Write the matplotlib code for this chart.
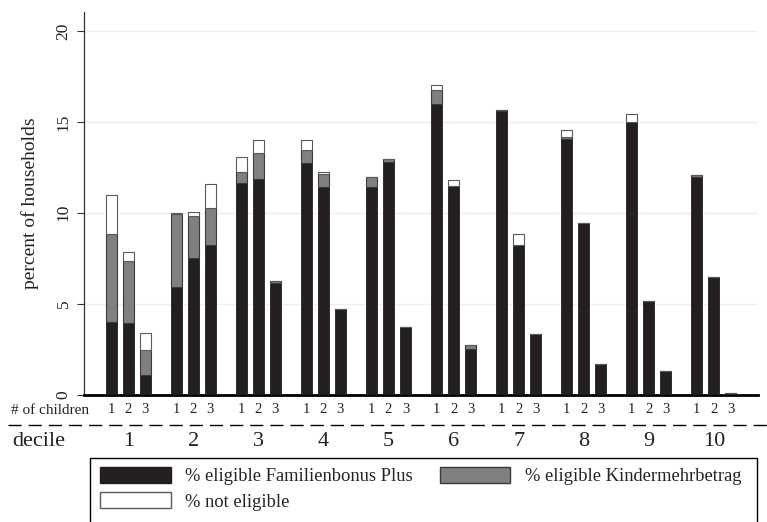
import numpy as np
import matplotlib
matplotlib.use("Agg")
import matplotlib.pyplot as plt
from matplotlib.patches import Patch, Rectangle
from matplotlib.lines import Line2D

plt.rcParams["font.family"] = ["Liberation Serif", "DejaVu Serif"]

# deciles and number of children per household
deciles = ["1", "2", "3", "4", "5", "6", "7", "8", "9", "10"]
children = ["1", "2", "3"]

# stacked shares (percent of households), one row per decile, cols = 1/2/3 children
familienbonus = [
    [4.00, 3.92, 1.08],
    [5.92, 7.50, 8.22],
    [11.64, 11.88, 6.12],
    [12.74, 11.42, 4.70],
    [11.42, 12.80, 3.71],
    [16.00, 11.45, 2.48],
    [15.60, 8.22, 3.33],
    [14.07, 9.43, 1.67],
    [14.98, 5.15, 1.29],
    [11.97, 6.47, 0.09],
]
kindermehrbetrag = [
    [4.84, 3.45, 1.36],
    [4.04, 2.35, 2.07],
    [0.58, 1.39, 0.12],
    [0.73, 0.70, 0.00],
    [0.53, 0.16, 0.00],
    [0.73, 0.00, 0.22],
    [0.08, 0.00, 0.00],
    [0.08, 0.00, 0.00],
    [0.00, 0.00, 0.00],
    [0.11, 0.00, 0.00],
]
not_eligible = [
    [2.14, 0.46, 0.96],
    [0.05, 0.19, 1.29],
    [0.83, 0.72, 0.00],
    [0.52, 0.12, 0.00],
    [0.00, 0.00, 0.00],
    [0.31, 0.33, 0.00],
    [0.00, 0.61, 0.00],
    [0.39, 0.00, 0.00],
    [0.46, 0.00, 0.00],
    [0.00, 0.00, 0.00],
]

black = "#231f20"
grey = "#808080"

fbp = np.array(familienbonus)
kmb = np.array(kindermehrbetrag)
ne = np.array(not_eligible)

group_step = 65 / 17
pos = np.array([[g * group_step + k for k in range(3)] for g in range(len(deciles))])

fig = plt.figure(figsize=(7.67, 5.22), dpi=100)
ax = fig.add_axes([84 / 767, 1 - 394.5 / 522, (758 - 84) / 767, (394.5 - 12) / 522])

# stacked bars
w = 0.65
ax.bar(pos.ravel(), fbp.ravel(), width=w, color=black, edgecolor=black, linewidth=0.6, zorder=3)
ax.bar(pos.ravel(), kmb.ravel(), bottom=fbp.ravel(), width=w, color=grey,
       edgecolor="#3a3a3a", linewidth=0.8, zorder=3)
ax.bar(pos.ravel(), ne.ravel(), bottom=(fbp + kmb).ravel(), width=w, color="white",
       edgecolor="#5a5a5a", linewidth=0.8, zorder=3)

ax.set_xlim(pos[0, 0] - 1.6, pos[-1, -1] + 1.6)
ax.set_ylim(0, 21.05)
ax.set_yticks([0, 5, 10, 15, 20])
ax.set_yticklabels(["0", "5", "10", "15", "20"], rotation=90, va="center", fontsize=12.5,
                   color="#222222")
ax.set_xticks([])
ax.tick_params(axis="y", length=5, width=0.8, color="#333333", pad=4)
ax.set_ylabel("percent of households", fontsize=14, labelpad=12, color="#222222")
ax.grid(axis="y", color="#efefef", linewidth=1, zorder=0)

for s in ["top", "right"]:
    ax.spines[s].set_visible(False)
ax.spines["left"].set_color("#333333")
ax.spines["left"].set_linewidth(0.9)
ax.spines["bottom"].set_color("black")
ax.spines["bottom"].set_linewidth(2)

# category labels under the axis
trans = ax.get_xaxis_transform()
for g in range(len(deciles)):
    for k in range(3):
        ax.text(pos[g, k], -0.04, children[k], transform=trans, ha="center", va="center",
                fontsize=10.5, color="#222222")
    ax.text(pos[g, 1], -0.124, deciles[g], transform=trans, ha="center", va="center",
            fontsize=16, color="#222222")
fig.text(50 / 767, 1 - 410 / 522, "# of children", ha="center", va="center",
         fontsize=11, color="#222222")
fig.text(39 / 767, 1 - 441 / 522, "decile", ha="center", va="center",
         fontsize=16, color="#222222")

# dashed separator
fig.add_artist(Line2D([8 / 767, 1.0], [1 - 425 / 522] * 2, transform=fig.transFigure,
                      color="black", linewidth=1, dashes=(9.5, 5)))

# legend box runs past the bottom edge of the figure
fig.add_artist(Rectangle((90 / 767, -0.05), 667 / 767, (1 - 458 / 522) + 0.05,
                         transform=fig.transFigure, facecolor="none",
                         edgecolor="black", linewidth=1))
handles = [
    Patch(facecolor=black, edgecolor=black, label="% eligible Familienbonus Plus"),
    Patch(facecolor="white", edgecolor="#5a5a5a", label="% not eligible"),
    Patch(facecolor=grey, edgecolor="#3a3a3a", label="% eligible Kindermehrbetrag"),
]
leg = fig.legend(handles=handles, ncol=2, loc="upper left",
                 bbox_to_anchor=(92 / 767, 1 - 459 / 522, 658 / 767, 0.001),
                 mode="expand", fontsize=13.3, frameon=False,
                 handlelength=3.8, handleheight=0.95, handletextpad=0.8,
                 borderpad=0.45, labelspacing=0.4, borderaxespad=0)
for t in leg.get_texts():
    t.set_color("#222222")

fig.savefig("out.png", dpi=100)
